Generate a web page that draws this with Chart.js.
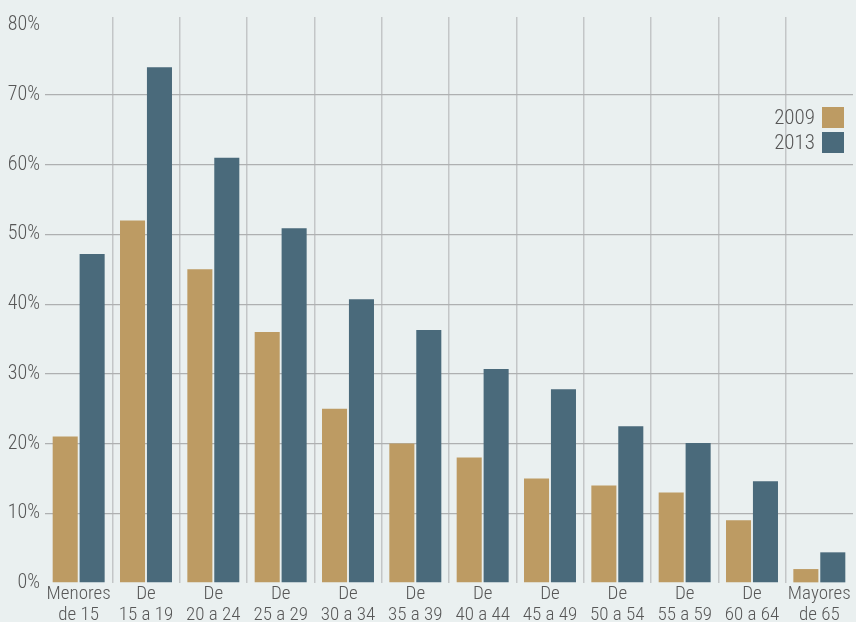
<!DOCTYPE html>
<html lang="es">
<head>
<meta charset="utf-8">
<title>Distribución por edades 2009 / 2013</title>
<script src="https://cdn.jsdelivr.net/npm/chart.js@4/dist/chart.umd.min.js"></script>
<style>
  html, body {
    margin: 0;
    padding: 0;
    background: #eaf0f0;
  }
  #chartWrap {
    position: relative;
    width: 856px;
    height: 622px;
  }
</style>
</head>
<body>
<div id="chartWrap">
  <canvas id="ageChart"></canvas>
</div>
<script>
// Age groups (two-line labels)
const ageGroups = [
  ['Menores', 'de 15'],
  ['De', '15 a 19'],
  ['De', '20 a 24'],
  ['De', '25 a 29'],
  ['De', '30 a 34'],
  ['De', '35 a 39'],
  ['De', '40 a 44'],
  ['De', '45 a 49'],
  ['De', '50 a 54'],
  ['De', '55 a 59'],
  ['De', '60 a 64'],
  ['Mayores', 'de 65']
];

// Percentages per year
const values2009 = [21, 52, 45, 36, 25, 20, 18, 15, 14, 13, 9, 2];
const values2013 = [47.2, 74, 61, 50.9, 40.7, 36.3, 30.7, 27.8, 22.5, 20.1, 14.6, 4.4];

// Y axis ticks
const yTicks = [0, 10, 20, 30, 40, 50, 60, 70, 80];

const chartConfig = {
  colors: {
    y2009: '#bd9b63',
    y2013: '#4a6a7b',
    text: '#575757',
    hGrid: '#aeb0b1',
    vGrid: '#c3c6c7'
  },
  // light, narrow face for all labels
  fontFamily: 'Roboto, sans-serif',
  fontWeight: '300 condensed'
};

/**
 * Legend drawn in the upper right: text first, then the colour box
 */
const sideLegend = {
  id: 'sideLegend',
  afterDraw(chart) {
    const ctx = chart.ctx;
    const boxX = 822;
    const boxW = 22;
    const boxH = 21;
    const rows = [107, 132];
    ctx.save();
    ctx.font = chartConfig.fontWeight + ' 21px ' + chartConfig.fontFamily;
    ctx.textAlign = 'right';
    ctx.textBaseline = 'middle';
    chart.data.datasets.forEach(function(ds, i) {
      const y = rows[i];
      ctx.fillStyle = ds.backgroundColor;
      ctx.fillRect(boxX, y, boxW, boxH);
      ctx.fillStyle = chartConfig.colors.text;
      ctx.fillText(ds.label, boxX - 7, y + boxH / 2 + 1);
    });
    ctx.restore();
  }
};

function initAgeChart() {
  const ctx = document.getElementById('ageChart').getContext('2d');

  new Chart(ctx, {
    type: 'bar',
    data: {
      labels: ageGroups,
      datasets: [
        {
          label: '2009',
          data: values2009,
          backgroundColor: chartConfig.colors.y2009,
          categoryPercentage: 0.8,
          barPercentage: 0.93
        },
        {
          label: '2013',
          data: values2013,
          backgroundColor: chartConfig.colors.y2013,
          categoryPercentage: 0.8,
          barPercentage: 0.93
        }
      ]
    },
    options: {
      responsive: true,
      maintainAspectRatio: false,
      animation: false,
      layout: {
        padding: { top: 17, right: 3, left: 0, bottom: 0 }
      },
      plugins: {
        legend: { display: false },
        tooltip: { enabled: false }
      },
      scales: {
        x: {
          border: { display: false },
          grid: {
            drawTicks: false,
            lineWidth: 1.5,
            // no line at the outer edges
            color: function(c) {
              if (c.index === undefined || c.index === 0) return 'rgba(0,0,0,0)';
              return chartConfig.colors.vGrid;
            }
          },
          ticks: {
            color: chartConfig.colors.text,
            padding: 1,
            maxRotation: 0,
            autoSkip: false,
            font: {
              family: chartConfig.fontFamily,
              weight: chartConfig.fontWeight,
              size: 19,
              lineHeight: 1.08
            }
          },
          afterFit: function(scale) {
            scale.height = 39;
          }
        },
        y: {
          min: 0,
          max: 81.2,
          border: { display: false },
          grid: {
            drawTicks: false,
            lineWidth: 1.3,
            color: function(c) {
              const v = c.tick && c.tick.value;
              if (v === 0 || v === 80) return 'rgba(0,0,0,0)';
              return chartConfig.colors.hGrid;
            }
          },
          afterBuildTicks: function(scale) {
            scale.ticks = yTicks.map(function(v) { return { value: v }; });
          },
          ticks: {
            color: chartConfig.colors.text,
            padding: 5,
            font: {
              family: chartConfig.fontFamily,
              weight: chartConfig.fontWeight,
              size: 20
            },
            callback: function(value) {
              return value + '%';
            }
          },
          afterFit: function(scale) {
            scale.width = 45;
          }
        }
      }
    },
    plugins: [sideLegend]
  });
}

document.addEventListener('DOMContentLoaded', function() {
  initAgeChart();
});
</script>
</body>
</html>
